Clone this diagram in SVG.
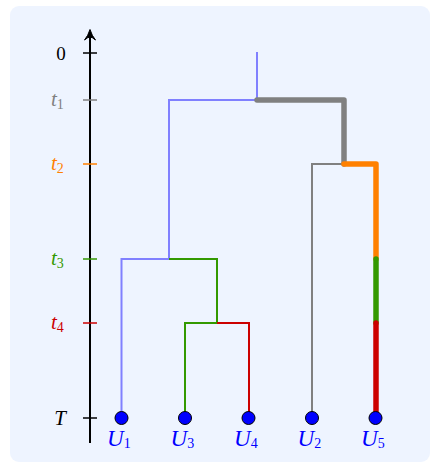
<svg xmlns="http://www.w3.org/2000/svg" width="435" height="468" viewBox="0 0 435 468">
<style>
.lbl{font-family:"Liberation Serif","DejaVu Serif",serif;font-style:italic;font-size:21px}
.ul{font-size:23px}
.sub{font-size:14px;font-style:normal}
.thin{fill:none;stroke-width:2;stroke-linejoin:miter}
.thick{fill:none;stroke-width:5.5;stroke-linejoin:round;stroke-linecap:round}
.leaf{fill:#0000FF;stroke:#000;stroke-width:1}
.tick{stroke-width:1.5}
</style>
<rect x="10" y="6" width="420" height="456" rx="9" fill="#EEF4FF"/>
<g id="axis">
<line x1="90" y1="443" x2="90" y2="32" stroke="#000" stroke-width="2"/>
<path d="M84.5,40 Q88,36 90,29.5 Q92,36 95.5,40 Q92,37 90,37 Q88,37 84.5,40 Z" fill="#000" stroke="#000" stroke-width="1"/>
<line class="tick" x1="83" y1="53" x2="97" y2="53" stroke="#000"/>
<line class="tick" x1="83" y1="100" x2="97" y2="100" stroke="#808080"/>
<line class="tick" x1="83" y1="164" x2="97" y2="164" stroke="#FF8000"/>
<line class="tick" x1="83" y1="259" x2="97" y2="259" stroke="#339900"/>
<line class="tick" x1="83" y1="323" x2="97" y2="323" stroke="#CC0000"/>
<line class="tick" x1="83" y1="418" x2="97" y2="418" stroke="#000"/>
<text x="61" y="59.5" text-anchor="middle" font-family="Liberation Serif, serif" font-size="19" fill="#000">0</text>
<text class="lbl" x="51" y="105.5" fill="#808080">t<tspan class="sub" dy="3.5">1</tspan></text>
<text class="lbl" x="51" y="169.5" fill="#FF8000">t<tspan class="sub" dy="3.5">2</tspan></text>
<text class="lbl" x="51" y="264.5" fill="#339900">t<tspan class="sub" dy="3.5">3</tspan></text>
<text class="lbl" x="51" y="328.5" fill="#CC0000">t<tspan class="sub" dy="3.5">4</tspan></text>
<text class="lbl" x="60" y="425" text-anchor="middle" fill="#000">T</text>
</g>
<g id="connectors">
<path class="thin" stroke="#8080FF" d="M257,52 V100 H169 V259 H121.5 V418"/>
<path class="thin" stroke="#339900" d="M169,259 H217 V323 H185 V418"/>
<path class="thin" stroke="#CC0000" d="M217,323 H249 V418"/>
<path class="thin" stroke="#808080" d="M344,164 H312 V418"/>
<path class="thick" stroke="#808080" d="M257,100 H344 V164"/>
<path class="thick" stroke="#FF8000" d="M344,164 H376 V259"/>
<path class="thick" stroke="#339900" d="M376,259 V323"/>
<path class="thick" stroke="#CC0000" d="M376,323 V418" stroke-linecap="butt"/>
</g>
<g id="U1"><circle class="leaf" cx="121.5" cy="418" r="6.5"/><text class="lbl ul" x="107" y="446" fill="#0000FF">U<tspan class="sub" dy="1.5">1</tspan></text></g>
<g id="U3"><circle class="leaf" cx="185" cy="418" r="6.5"/><text class="lbl ul" x="170.5" y="446" fill="#0000FF">U<tspan class="sub" dy="1.5">3</tspan></text></g>
<g id="U4"><circle class="leaf" cx="248.5" cy="418" r="6.5"/><text class="lbl ul" x="234" y="446" fill="#0000FF">U<tspan class="sub" dy="1.5">4</tspan></text></g>
<g id="U2"><circle class="leaf" cx="312" cy="418" r="6.5"/><text class="lbl ul" x="297.5" y="446" fill="#0000FF">U<tspan class="sub" dy="1.5">2</tspan></text></g>
<g id="U5"><circle class="leaf" cx="375.5" cy="418" r="6.5"/><text class="lbl ul" x="361" y="446" fill="#0000FF">U<tspan class="sub" dy="1.5">5</tspan></text></g>
</svg>
